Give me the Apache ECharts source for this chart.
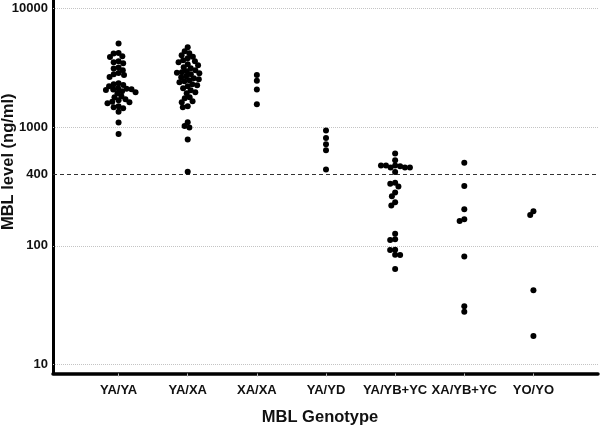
<!DOCTYPE html>
<html>
<head>
<meta charset="utf-8">
<script src="https://cdn.jsdelivr.net/npm/echarts@6/dist/echarts.min.js"></script>
<style>
  html, body { margin: 0; padding: 0; background: #fff; }
  #chart { width: 600px; height: 426px; }
</style>
</head>
<body>
<div id="chart"></div>
<script>
// MBL 血清水平 vs 基因型 — 对数纵轴，散点蜂群图
const genotypes = ['YA/YA', 'YA/XA', 'XA/XA', 'YA/YD', 'YA/YB+YC', 'XA/YB+YC', 'YO/YO'];

// 各基因型的 MBL 水平 (ng/ml)，按图上从高到低读出
const yaYa = [5050, 4210, 4170, 3950, 3900, 3580, 3515, 3445, 3170, 3110, 3010,
  2860, 2785, 2740, 2640, 2340, 2295, 2260, 2210, 2125, 2100, 2085, 2070, 2050,
  2005, 1970, 1930, 1820, 1785, 1718, 1680, 1637, 1620, 1590, 1500, 1470, 1442,
  1350, 1095, 877];
const yaXa = [4700, 4350, 4185, 4030, 3910, 3800, 3655, 3580, 3515, 3380, 3320,
  3190, 3130, 3010, 2950, 2900, 2870, 2840, 2785, 2680, 2630, 2580, 2530, 2485,
  2435, 2390, 2300, 2255, 2210, 2125, 2045, 1970, 1930, 1785, 1750, 1650, 1620,
  1500, 1470, 1100, 1020, 993, 787, 420];
const xaXa = [2740, 2455, 2070, 1560];
const yaYd = [936, 811, 718, 640, 440];
const yaYbYc = [600, 527, 475, 457, 469, 475, 457, 475, 457, 418, 340, 333, 316,
  282, 262, 233, 219, 126.5, 113.5, 112, 92.7, 92.2, 84.1, 83.7, 63.8];
const xaYbYc = [500, 320, 203, 168, 162, 81.6, 31, 27.9];
const yoYo = [196, 182, 42.3, 17.4];
const groups = [yaYa, yaXa, xaXa, yaYd, yaYbYc, xaYbYc, yoYo];

// 纵轴刻度、网格线、400 ng/ml 阈值
const yTicks = [10, 100, 400, 1000, 10000];
const gridValues = [10, 100, 1000, 10000];
const cutoff = 400;
const yMin = 8.43;
const yMax = 11750;

const points = [];
groups.forEach(function (vals, i) {
  vals.forEach(function (v) { points.push([genotypes[i], v]); });
});

const boldText = { fontFamily: 'Liberation Sans, Arial, sans-serif', fontWeight: 'bold', color: '#111' };

const chart = echarts.init(document.getElementById('chart'), null, { renderer: 'canvas' });
chart.setOption({
  animation: false,
  backgroundColor: '#fff',
  grid: [
    // 散点区域（类目带宽与原图对齐）
    { left: 84, right: 32, top: 0, bottom: 52.5, outerBoundsMode: 'none' },
    // 坐标框架（轴线、网格线）
    { left: 53, right: 2, top: 0, bottom: 52.5, outerBoundsMode: 'none' }
  ],
  xAxis: [{
    type: 'category',
    gridIndex: 0,
    data: genotypes,
    jitter: 44,
    jitterOverlap: false,
    jitterMargin: -1,
    axisLine: { show: false },
    axisTick: { show: true, alignWithLabel: true, length: 3, lineStyle: { color: '#bbb' } },
    axisLabel: Object.assign({ fontSize: 13, margin: 10, interval: 0 }, boldText),
    splitLine: { show: false }
  }, {
    type: 'value',
    gridIndex: 1,
    min: 0,
    max: 1,
    name: 'MBL Genotype',
    nameLocation: 'middle',
    nameGap: 35,
    nameTextStyle: Object.assign({ fontSize: 16.5, padding: [0, 11, 0, 0] }, boldText),
    axisLine: { show: true, lineStyle: { color: '#000', width: 3.5 } },
    axisTick: { show: false },
    axisLabel: { show: false },
    splitLine: { show: false }
  }],
  yAxis: [{
    type: 'log',
    gridIndex: 0,
    min: yMin,
    max: yMax,
    show: false
  }, {
    type: 'log',
    gridIndex: 1,
    min: yMin,
    max: yMax,
    name: 'MBL level (ng/ml)',
    nameLocation: 'middle',
    nameGap: 36,
    nameMoveOverlap: false,
    nameTextStyle: Object.assign({ fontSize: 16.5, padding: [0, 0, 0, 50] }, boldText),
    axisLine: { show: true, lineStyle: { color: '#000', width: 3 } },
    axisTick: { show: false, customValues: yTicks },
    axisLabel: Object.assign({
      fontSize: 13,
      margin: 5,
      customValues: yTicks,
      formatter: function (v) { return String(Math.round(v)); }
    }, boldText),
    splitLine: { show: false }
  }],
  series: [{
    // 网格线 + 阈值虚线
    type: 'line',
    xAxisIndex: 1,
    yAxisIndex: 1,
    data: [],
    z: 1,
    silent: true,
    markLine: {
      silent: true,
      symbol: 'none',
      label: { show: false },
      data: gridValues.map(function (v) {
        return { yAxis: v, lineStyle: { color: '#c4c4c4', width: 1, type: 'dotted' } };
      }).concat([{ yAxis: cutoff, lineStyle: { color: '#333', width: 1.2, type: [4, 3] } }])
    }
  }, {
    type: 'scatter',
    xAxisIndex: 0,
    yAxisIndex: 0,
    data: points,
    symbol: 'circle',
    symbolSize: 6,
    itemStyle: { color: '#000', opacity: 1 },
    z: 5
  }]
});
</script>
</body>
</html>
